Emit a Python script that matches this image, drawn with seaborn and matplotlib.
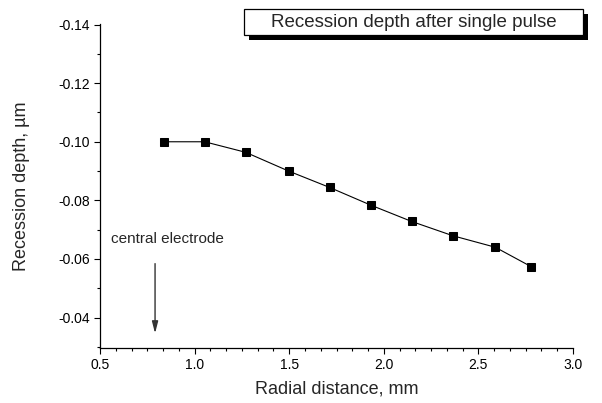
import matplotlib
matplotlib.use("Agg")
import matplotlib.pyplot as plt
from matplotlib.patches import Rectangle
from matplotlib.ticker import MultipleLocator
import seaborn as sns
import pandas as pd

# data
radial_mm = [0.838, 1.053, 1.270, 1.497, 1.714, 1.930, 2.147, 2.366, 2.589, 2.778]
depth_um = [-0.100, -0.100, -0.0964, -0.0900, -0.0844, -0.0784, -0.0728, -0.0679, -0.0640, -0.0574]
x_ticks = [0.5, 1.0, 1.5, 2.0, 2.5, 3.0]
y_ticks = [-0.14, -0.12, -0.10, -0.08, -0.06, -0.04]

sns.set_style("ticks")
plt.rcParams['font.family'] = ['Liberation Sans', 'DejaVu Sans']

df = pd.DataFrame({"x": radial_mm, "y": depth_um})

fig = plt.figure(figsize=(6.02, 4.03), dpi=100)
ax = fig.add_axes([100/602, 1-348/403, (573-100)/602, (348-24)/403])

sns.lineplot(data=df, x="x", y="y", ax=ax, color="black", linewidth=0.8,
             marker="s", markersize=5.5, markeredgecolor="black",
             markerfacecolor="black")

ax.set_xlim(0.5, 3.0)
ax.set_ylim(-0.0296, -0.1402)
ax.set_xticks(x_ticks)
ax.set_xticklabels([f"{t:.1f}" for t in x_ticks])
ax.set_yticks(y_ticks)
ax.set_yticklabels([f"{t:.2f}" for t in y_ticks])
ax.xaxis.set_minor_locator(MultipleLocator(0.5/6))
ax.yaxis.set_minor_locator(MultipleLocator(0.01))
ax.tick_params(which="major", direction="out", length=4.5, width=0.8,
               labelsize=10, color="black", labelcolor="black", pad=3)
ax.tick_params(which="minor", direction="out", length=2.5, width=0.8, color="black")
for s in ["top", "right"]:
    ax.spines[s].set_visible(False)
for s in ["left", "bottom"]:
    ax.spines[s].set_linewidth(0.9)
    ax.spines[s].set_color("black")

ax.set_xlabel("Radial distance, mm", fontsize=13, labelpad=6)
ax.set_ylabel("Recession depth, µm", fontsize=13, labelpad=20)

ax.text(0.556, -0.0667, "central electrode", fontsize=11, ha="left", va="center")
ax.annotate("", xy=(0.791, -0.0346), xytext=(0.791, -0.0584),
            arrowprops=dict(arrowstyle="-|>,head_length=0.7,head_width=0.18",
                            color="#333333", lw=1.0, shrinkA=0, shrinkB=0))

# title box with shadow
bx0, bx1, by0, by1 = 244, 582.7, 9.3, 35
sh = 5
fig.patches.append(Rectangle(((bx0+sh)/602, 1-(by1+sh)/403), (bx1-bx0)/602, (by1-by0)/403,
                             transform=fig.transFigure, facecolor="black", edgecolor="black",
                             linewidth=0, zorder=1))
fig.patches.append(Rectangle((bx0/602, 1-by1/403), (bx1-bx0)/602, (by1-by0)/403,
                             transform=fig.transFigure, facecolor="white", edgecolor="black",
                             linewidth=0.9, zorder=2))
fig.text((bx0+bx1)/2/602, 1-(by0+by1)/2/403, "Recession depth after single pulse",
         fontsize=13.5, ha="center", va="center", zorder=3)

fig.savefig("out.png", dpi=100)
